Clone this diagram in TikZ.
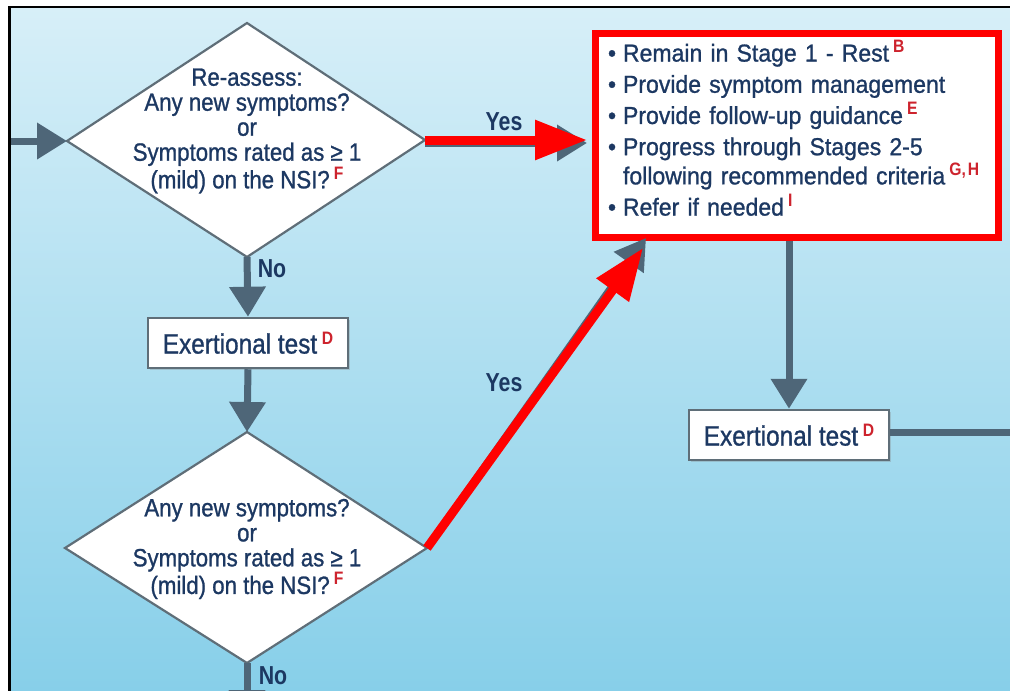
\documentclass[tikz,border=0pt]{standalone}
\usepackage{fontspec}
\setmainfont{Liberation Sans}
\newfontfamily\dfont[FakeStretch=0.89,FakeBold=1.0]{Liberation Sans}
\newfontfamily\efont[FakeStretch=0.87,FakeBold=1.0]{Liberation Sans}
\newfontfamily\sfont[FakeStretch=0.87]{Liberation Sans}
\newfontfamily\lfont[FakeStretch=0.82]{Liberation Sans}
\newfontfamily\rfont[FakeStretch=0.94,FakeBold=1.0]{Liberation Sans}
\usetikzlibrary{arrows.meta,shadows}
\definecolor{navy}{RGB}{28,56,98}
\definecolor{arrowgray}{RGB}{78,102,120}
\definecolor{edgegray}{RGB}{95,110,120}
\definecolor{supred}{RGB}{205,35,45}
\definecolor{hired}{RGB}{255,0,0}
\definecolor{bgtop}{RGB}{215,239,248}
\definecolor{bgbot}{RGB}{135,207,233}
\newcommand\rsup[1]{\,\raisebox{9pt}{\sfont\bfseries\fontsize{18}{18}\selectfont\textcolor{supred}{#1}}}
\newcommand\bul[1]{\makebox[0pt][l]{\makebox[15pt][l]{•}#1}}
\newcommand\cont[1]{\makebox[0pt][l]{\hspace*{15pt}#1}}
\begin{document}
\begin{tikzpicture}[x=1pt,y=-1pt,
  diam/.style={fill=white,draw=edgegray,line width=2.2pt,line join=miter},
  dtext/.style={align=center,inner sep=0pt,text=navy,font=\dfont\fontsize{25}{25}\selectfont},
  ebox/.style={draw=edgegray,fill=white,line width=2.5pt,minimum width=200pt,minimum height=50pt,inner sep=0pt,text=navy,font=\efont\fontsize{28}{28}\selectfont,drop shadow={shadow xshift=2pt,shadow yshift=-2pt,opacity=0.3}},
  redbox/.style={draw=hired,fill=white,line width=7pt,minimum width=403pt,minimum height=204pt,inner xsep=13pt,inner ysep=0pt,text width=377pt,align=left,text=navy,font=\rfont\fontsize{24.5}{31.2}\selectfont,drop shadow={shadow xshift=3pt,shadow yshift=-3pt,opacity=0.35}},
  ga/.style={draw=arrowgray,line width=7pt,-{Triangle[length=30pt,width=35pt]}},
  gline/.style={draw=arrowgray,line width=7pt},
  ra/.style={draw=hired,line width=9pt,-{Triangle[length=52pt,width=38pt]}},
  lbl/.style={text=navy,inner sep=0pt,font=\lfont\bfseries\fontsize{26}{26}\selectfont}]
\useasboundingbox (0,0) rectangle (1010,691);
\fill[white] (0,0) rectangle (1010,691);
\shade[top color=bgtop,bottom color=bgbot] (10,7) rectangle (1010,691);
\draw[line width=2.5pt] (9.5,691) -- (9.5,7) -- (1010,7);
% diamond 1
\coordinate (d1t) at (247,23);
\coordinate (d1r) at (425,140);
\coordinate (d1b) at (247,257);
\coordinate (d1l) at (67,141);
\filldraw[diam] (d1t) -- (d1r) -- (d1b) -- (d1l) -- cycle;
\node[dtext] (q1) at (247,131) {Re-assess:\\Any new symptoms?\\or\\Symptoms rated as ≥ 1\\(mild) on the NSI?\rsup{F}};
% diamond 2
\coordinate (d2t) at (247,432);
\coordinate (d2r) at (427,548);
\coordinate (d2b) at (247,663);
\coordinate (d2l) at (65,548);
\filldraw[diam] (d2t) -- (d2r) -- (d2b) -- (d2l) -- cycle;
\node[dtext] (q2) at (247,549) {Any new symptoms?\\or\\Symptoms rated as ≥ 1\\(mild) on the NSI?\rsup{F}};
% boxes
\node[ebox] (e1) at (248,343) {Exertional test\rsup{D}};
\node[ebox] (e2) at (789,435) {Exertional test\rsup{D}};
\node[redbox,anchor=north west] (rb) at (591.5,29.5) {\bul{Remain in Stage 1 - Rest\rsup{B}}\\
\bul{Provide symptom management}\\
\bul{Provide follow-up guidance\rsup{E}}\\
\bul{Progress through Stages 2-5}\\[-2pt]
\cont{following recommended criteria\rsup{G,\kern2pt H}}\\
\bul{Refer if needed\rsup{I}}\par\vspace*{14pt}};
% coordinates
\coordinate (inL) at (11,141);
\coordinate (g1end) at (587,143);
\coordinate (g2end) at (646,238);
\coordinate (r1end) at (587,140);
\coordinate (r2end) at (643,248);
\coordinate (bot) at (247,720);
\coordinate (outR) at (1012,432);
% gray connectors
\draw[ga] (inL) -- (d1l);
\draw[ga] (d1b) -- (e1.north);
\draw[ga] (e1.south) -- (d2t);
\draw[ga] (d2b) -- (bot);
\draw[ga] (rb.south -| e2.north) -- (e2.north);
\draw[gline] (e2.east |- outR) -- (outR);
\draw[ga] (d1r |- g1end) -- (g1end);
\draw[ga] (d2r) -- (g2end);
% red overlays
\draw[ra] (d1r) -- (r1end);
\draw[ra] (d2r) -- (r2end);
% labels
\node[lbl] (y1) at (504,122) {Yes};
\node[lbl] (y2) at (504,383) {Yes};
\node[lbl] (n1) at (272,269) {No};
\node[lbl] (n2) at (273,676) {No};
\end{tikzpicture}
\end{document}
